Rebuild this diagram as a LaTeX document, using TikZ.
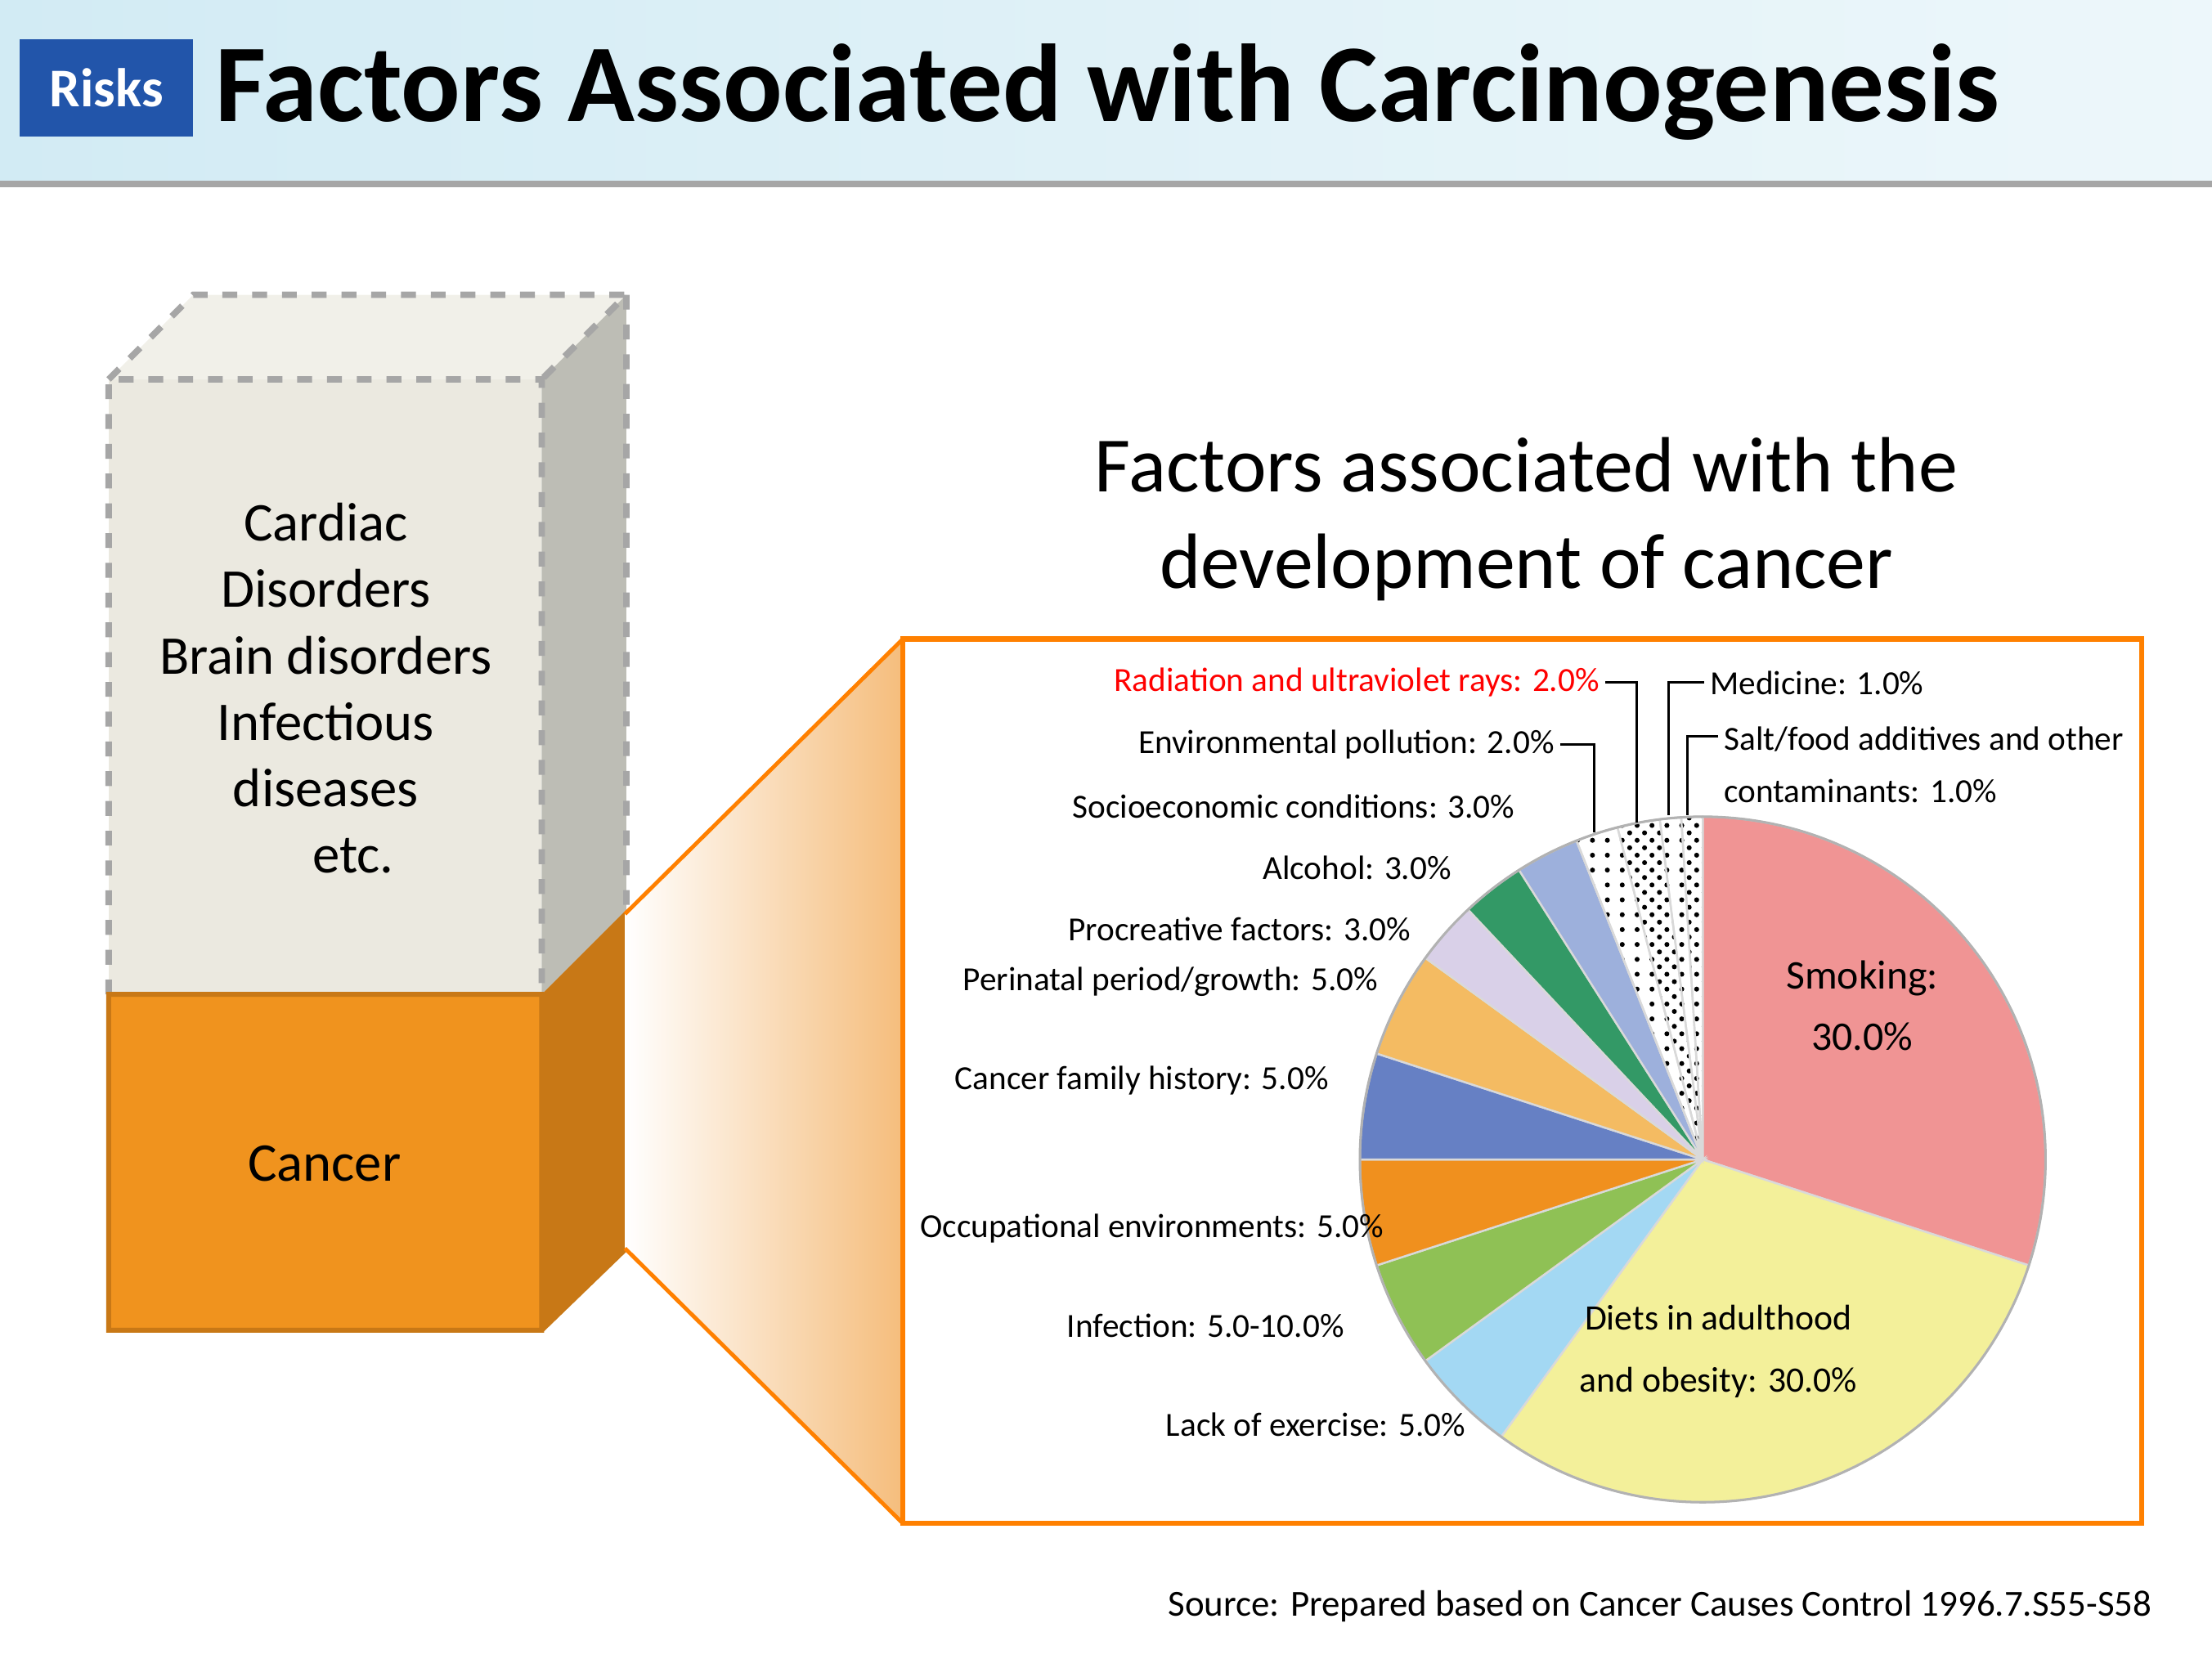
\documentclass[tikz,border=0pt]{standalone}
\usepackage{fontspec}
\setmainfont{Carlito}
\usetikzlibrary{patterns}
\definecolor{orng}{HTML}{F0931E}
\definecolor{orngd}{HTML}{C87816}
\definecolor{riskb}{HTML}{2255AA}
\definecolor{hdtop}{HTML}{D2EBF4}
\definecolor{hdbot}{HTML}{C2E2EE}
\definecolor{facec}{HTML}{EBE9E0}
\definecolor{sidec}{HTML}{BDBDB5}
\definecolor{trap}{HTML}{F5BD7C}
\begin{document}
\begin{tikzpicture}[x=0.01cm,y=-0.01cm,
  lbl/.style={font=\fontsize{6.8pt}{8pt}\selectfont,inner sep=1pt},
  lead/.style={draw=black,line width=0.5pt},
  sl/.style={draw=white!70!gray,line width=0.4pt}]
\useasboundingbox (0,0) rectangle (1568,1176);
% header
\shade[left color=hdtop,right color=white!60!hdtop] (0,0) rectangle (1568,128);
\fill[gray!70] (0,128) rectangle (1568,133);
\fill[riskb] (14,28) rectangle (137,97);
\node[text=white,font=\bfseries\fontsize{11pt}{12pt}\selectfont] (risks) at (75.5,62.5) {Risks};
\node[anchor=west,font=\bfseries\fontsize{22.3pt}{24pt}\selectfont,inner sep=0pt] (title) at (152,65) {Factors Associated with Carcinogenesis};
% 3D box
\fill[facec] (77,269) rectangle (384,705);
\fill[facec!70!white] (77,269) -- (137,209) -- (444,209) -- (384,269) -- cycle;
\fill[sidec] (384,269) -- (444,209) -- (444,645) -- (384,705) -- cycle;
\draw[gray!70,dashed,line width=1.3pt] (77,705) -- (77,269) -- (384,269) -- (384,705) (77,269) -- (137,209) -- (444,209) -- (384,269) (444,209) -- (444,645);
\fill[orng] (77,705) rectangle (384,943);
\fill[orngd] (384,705) -- (444,645) -- (444,885) -- (384,943) -- cycle;
\draw[orngd,line width=1pt] (77,705) rectangle (384,943) (384,943) -- (444,885);
\node[font=\fontsize{11pt}{13.4pt}\selectfont,align=center] (other) at (231,488) {Cardiac\\Disorders\\Brain disorders\\Infectious\\diseases\\\quad etc.};
\node[font=\fontsize{11pt}{12pt}\selectfont] (cancer) at (230,825) {Cancer};
% zoom trapezoid
\shade[left color=white,right color=trap] (443,648) -- (640,453) -- (640,1080) -- (443,885) -- cycle;
\draw[orange,line width=0.8pt] (443,648) -- (640,453) (443,885) -- (640,1080);
\draw[orange,line width=1pt,fill=white] (640,453) rectangle (1518,1080);
\node[font=\fontsize{15.8pt}{19.5pt}\selectfont,align=center] (ctitle) at (1082,368) {Factors associated with the\\development of cancer};
% pie
\coordinate (c) at (1207,822);
\def\R{243}
\foreach \a/\b/\col in {90/-18/F09494,-18/-126/F3F09A,-126/-144/A3D8F3,-144/-162/8FC155,-162/-180/F0901E,180/162/6680C4,162/144/F4BB62,144/133.2/D9D0E8,133.2/122.4/339966,122.4/111.6/9DB0DC}{
  \definecolor{tmp}{HTML}{\col}
  \fill[tmp,sl] (c) -- ++(-\a:\R) arc (-\a:-\b:\R) -- cycle;}
\fill[white,sl] (c) -- ++(-111.6:\R) arc (-111.6:-90:\R) -- cycle;
\fill[pattern=dots,sl] (c) -- ++(-111.6:\R) arc (-111.6:-104.4:\R) -- cycle;
\fill[pattern=crosshatch dots,sl] (c) -- ++(-104.4:\R) arc (-104.4:-97.2:\R) -- cycle;
\fill[pattern=dots,sl] (c) -- ++(-97.2:\R) arc (-97.2:-93.6:\R) -- cycle;
\fill[pattern=crosshatch dots,sl] (c) -- ++(-93.6:\R) arc (-93.6:-90:\R) -- cycle;
\draw[gray!60,line width=0.5pt] (c) circle (\R);
% labels
\node[lbl,align=center,font=\fontsize{8.2pt}{12.5pt}\selectfont] (smk) at (1320,713) {Smoking:\\30.0\%};
\node[lbl,align=center,font=\fontsize{7.2pt}{12.5pt}\selectfont] (diet) at (1218,958) {Diets in adulthood\\and obesity: 30.0\%};
\node[lbl,anchor=east,text=red] (rad) at (1138,484) {Radiation and ultraviolet rays: 2.0\%};
\node[lbl,anchor=east] (env) at (1106,528) {Environmental pollution: 2.0\%};
\node[lbl,anchor=east] (soc) at (1078,572) {Socioeconomic conditions: 3.0\%};
\node[lbl,anchor=east] (alc) at (1033,615) {Alcohol: 3.0\%};
\node[lbl,anchor=east] (pro) at (1004,659) {Procreative factors: 3.0\%};
\node[lbl,anchor=east] (per) at (981,696) {Perinatal period/growth: 5.0\%};
\node[lbl,anchor=east] (fam) at (946,766) {Cancer family history: 5.0\%};
\node[lbl,anchor=east] (occ) at (985,871) {Occupational environments: 5.0\%};
\node[lbl,anchor=east] (inf) at (957,940) {Infection: 5.0-10.0\%};
\node[lbl,anchor=east] (lex) at (1043,1010) {Lack of exercise: 5.0\%};
\node[lbl,anchor=west] (med) at (1208,484) {Medicine: 1.0\%};
\node[lbl,anchor=west,align=left,font=\fontsize{6.8pt}{10.5pt}\selectfont] (salt) at (1218,542) {Salt/food additives and other\\contaminants: 1.0\%};
\coordinate (radp) at (1160,583);
\coordinate (envp) at (1130,590);
\coordinate (medp) at (1183,578);
\coordinate (saltp) at (1196,578);
\draw[lead] (rad.east) -- (radp |- rad.east) -- (radp);
\draw[lead] (env.east) -- (envp |- env.east) -- (envp);
\draw[lead] (med.west) -- (medp |- med.west) -- (medp);
\draw[lead] (1218,522) -- (saltp |- 0,522) -- (saltp);
\node[anchor=east,font=\fontsize{7.4pt}{8pt}\selectfont,inner sep=0pt] (src) at (1526,1139) {Source: Prepared based on Cancer Causes Control 1996.7.S55-S58};
\end{tikzpicture}
\end{document}
